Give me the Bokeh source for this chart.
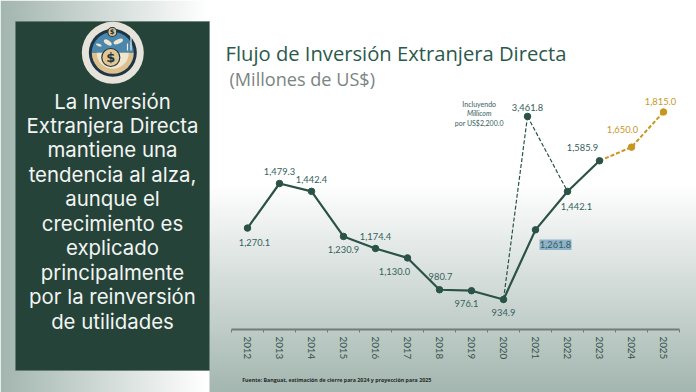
import numpy as np
from bokeh.plotting import figure
from bokeh.models import Range1d, LinearAxis, FixedTicker, ColumnDataSource
from bokeh.core.properties import value
from bokeh.embed import file_html
from bokeh.resources import INLINE

# ---- data ----
years = [2012, 2013, 2014, 2015, 2016, 2017, 2018, 2019, 2020, 2021, 2022, 2023]
fdi = [1270.1, 1479.3, 1442.4, 1230.9, 1174.4, 1130.0, 980.7, 976.1, 934.9, 1261.8, 1442.1, 1585.9]
fc_years = [2023, 2024, 2025]
fc_values = [1585.9, 1650.0, 1815.0]
millicom_year = 2020.75
millicom_plot_value = 1794.0   # height at which the point is drawn in the source (broken scale)
millicom_label = "3,461.8"
tick_labels = [str(y) for y in range(2012, 2026)]
panel_lines = ["La Inversión", "Extranjera Directa", "mantiene una", "tendencia al alza,",
               "aunque el", "crecimiento es", "explicado", "principalmente",
               "por la reinversión", "de utilidades"]

W, H = 696, 392
GREEN = "#2a5246"
ORANGE = "#c8961f"
TXT = "#35605a"

def Y(py):
    return H - py

# value axis scale: 1479.3 at px 183, 934.9 at px 299
k = (299 - 183) / (1479.3 - 934.9)
y_at = lambda py: 934.9 + (299 - py) / k
x_at = lambda px: 2012 + (px - 247) / 32

p = figure(width=W, height=H, output_backend="svg", toolbar_location=None,
           x_range=Range1d(x_at(0), x_at(W)), y_range=Range1d(y_at(H), y_at(0)),
           min_border=0, x_axis_location=None, y_axis_location=None)
p.outline_line_color = None
p.grid.visible = False
p.extra_x_ranges["px"] = Range1d(0, W)
p.extra_y_ranges["px"] = Range1d(0, H)
PX = dict(x_range_name="px", y_range_name="px")

# ---- background ----
rows = np.arange(H)[::-1]  # row 0 is the bottom of the picture
cols = np.arange(W)
c0 = np.array([163, 182, 175.0])
c1 = np.array([255, 255, 255.0])
img = np.zeros((H, W, 4), dtype=np.uint8)
img[..., 3] = 255
yy, xx = np.meshgrid(rows, cols, indexing="ij")
tl = np.clip(xx / 205.0, 0, 1)
tr = np.clip((yy - 185) / (392 - 185.0), 0, 1)
for i in range(3):
    left = c0[i] + (c1[i] - c0[i]) * tl
    right = c1[i] + (c0[i] - c1[i]) * tr
    img[..., i] = np.where(xx < 209, left, right).astype(np.uint8)
view = img.view(dtype=np.uint32).reshape(H, W)
p.image_rgba(image=[view], x=0, y=0, dw=W, dh=H, **PX)

# ---- left panel ----
p.quad(left=15, right=209, top=Y(21), bottom=Y(370), fill_color="#26433a",
       line_color="#5f7a70", line_width=0.6, **PX)
p.text(x=[112] * len(panel_lines), y=[Y(100.5 + 24.45 * i) for i in range(len(panel_lines))],
       text=panel_lines, text_align="center", text_baseline="middle", text_color="#f2f5f2",
       text_font=value("Inter"), text_font_size="20.4px", **PX)

# ---- logo ----
cx, cy = 112.3, Y(52.3)
DARK = "#1d3545"
p.circle(x=[cx], y=[cy], radius=31, fill_color="#e6e4da", line_color=None, **PX)
p.circle(x=[cx], y=[cy], radius=24, fill_color=DARK, line_color=None, **PX)
p.wedge(x=[cx], y=[cy], radius=21, start_angle=0, end_angle=np.pi, fill_color="#4b86ad", line_color=None, **PX)
p.wedge(x=[cx], y=[cy], radius=21, start_angle=np.pi, end_angle=2 * np.pi, fill_color="#dcc08f", line_color=None, **PX)
p.wedge(x=[cx], y=[cy], radius=16, start_angle=np.pi, end_angle=2 * np.pi, fill_color="#efe6cf", line_color=None, **PX)
p.ellipse(x=[cx - 5, cx + 5.5, cx - 14], y=[Y(42), Y(41), Y(44.5)], width=[9, 10, 6], height=[4.5, 4.5, 2.5],
          angle=[-0.6, 0.4, -0.3], fill_color="#efe6cf", line_color=None, **PX)
p.circle(x=[cx - 2], y=[Y(57)], radius=[9], fill_color="#e2c58f", line_color=DARK, line_width=1.2, **PX)
p.circle(x=[cx - 0.5], y=[Y(31.5)], radius=[4.5], fill_color="#e2c58f", line_color=DARK, line_width=1.2, **PX)
p.segment(x0=[130.5, 127], y0=[Y(50), Y(50)], x1=[130.5, 127], y1=[Y(34), Y(43)], line_color="#f0f0ea", line_width=1.2, **PX)
p.text(x=[cx - 0.5, cx - 2], y=[Y(31.5), Y(57)], text=["$", "$"], text_align="center", text_baseline="middle",
       text_color=DARK, text_font=value("DejaVu Sans"), text_font_style="bold",
       text_font_size=["7px", "13px"], **PX)

# ---- title ----
p.text(x=[225], y=[Y(52)], text=["Flujo de Inversión Extranjera Directa"], text_baseline="middle",
       text_color="#2b5a4c", text_font=value("Open Sans"), text_font_size="20.2px", **PX)
p.text(x=[229], y=[Y(78.5)], text=["(Millones de US$)"], text_baseline="middle",
       text_color="#7a8483", text_font=value("Open Sans"), text_font_size="18.1px", **PX)

# ---- axes ----
axis_val = y_at(329)
ax = LinearAxis(fixed_location=axis_val, bounds=(2011.5, 2025.5),
                ticker=FixedTicker(ticks=[y + 0.5 for y in range(2011, 2026)]),
                axis_line_color="#747c7a", axis_line_width=1.8, major_tick_line_color="#747c7a",
                major_tick_line_width=1, major_tick_in=0, major_tick_out=3, minor_tick_line_color=None,
                major_label_text_color=None)
p.add_layout(ax, "below")
ax2 = LinearAxis(fixed_location=axis_val, ticker=FixedTicker(ticks=list(range(2012, 2026))),
                 major_label_overrides={y: str(y) for y in range(2012, 2026)},
                 axis_line_color=None, major_tick_line_color=None, minor_tick_line_color=None,
                 major_label_orientation="vertical", major_label_standoff=1,
                 major_label_text_font="Lato", major_label_text_font_size="9.8px",
                 major_label_text_color="#32504a")
p.add_layout(ax2, "below")

# ---- highlight behind 1,261.8 ----
p.quad(left=539, right=571, top=Y(239), bottom=Y(249.5), fill_color="#8fb1ca", line_color=None, **PX)

# ---- series ----
p.line([millicom_year, 2020], [millicom_plot_value, fdi[8]], line_color=GREEN, line_width=1.2, line_dash="4 2")
p.line([millicom_year, 2022], [millicom_plot_value, fdi[10]], line_color=GREEN, line_width=1.2, line_dash="4 2")
p.line(fc_years, fc_values, line_color=ORANGE, line_width=2, line_dash="4 2")
p.line(years, fdi, line_color=GREEN, line_width=2.2)
p.scatter(years, fdi, size=6.5, fill_color=GREEN, line_color=GREEN)
p.scatter([millicom_year], [millicom_plot_value], size=6.5, fill_color=GREEN, line_color=GREEN)
p.scatter(fc_years[1:], fc_values[1:], size=6.5, fill_color=ORANGE, line_color=ORANGE)

# ---- value labels ----
LABEL = "9.3px"
dx = [7, 0, 0, 0, 0, -13, 1, -5, 0, 20, 9, -17]
dy = [14, -12.3, -12, 12.7, -12, 14, -13, 13, 13, 15, 15.5, -13.7]
src = ColumnDataSource(dict(x=years, y=fdi, t=[f"{v:,.1f}" for v in fdi], dx=dx, dy=dy))
p.text("x", "y", text="t", x_offset="dx", y_offset="dy", source=src, text_align="center",
       text_baseline="middle", text_color=TXT, text_font=value("Lato"), text_font_size=LABEL)
src2 = ColumnDataSource(dict(x=fc_years[1:], y=fc_values[1:], t=[f"{v:,.1f}" for v in fc_values[1:]],
                             dx=[-9, -3], dy=[-18, -10]))
p.text("x", "y", text="t", x_offset="dx", y_offset="dy", source=src2, text_align="center",
       text_baseline="middle", text_color=ORANGE, text_font=value("Lato"), text_font_size=LABEL)
p.text([millicom_year], [millicom_plot_value], text=[millicom_label], y_offset=-8.5, text_align="center",
       text_baseline="middle", text_color=TXT, text_font=value("Lato"), text_font_size=LABEL)

# ---- note and source ----
p.text(x=[478.7], y=[Y(103)], text=["Incluyendo"], text_align="center", text_baseline="middle",
       text_color=TXT, text_font=value("Lato"), text_font_size="7px", **PX)
p.text(x=[478.7], y=[Y(112.5)], text=["Millicom"], text_align="center", text_baseline="middle",
       text_color=TXT, text_font=value("Lato"), text_font_style="italic", text_font_size="7px", **PX)
p.text(x=[478.7], y=[Y(122)], text=["por US$2,200.0"], text_align="center", text_baseline="middle",
       text_color=TXT, text_font=value("Lato"), text_font_size="7px", **PX)
p.text(x=[241.7], y=[Y(379)], text=["Fuente: Banguat, estimación de cierre para 2024 y proyección para 2025"],
       text_baseline="middle", text_color="#1f2a28", text_font=value("Open Sans"), text_font_style="bold",
       text_font_size="5.3px", **PX)

open("out.html", "w").write(file_html(p, INLINE))
